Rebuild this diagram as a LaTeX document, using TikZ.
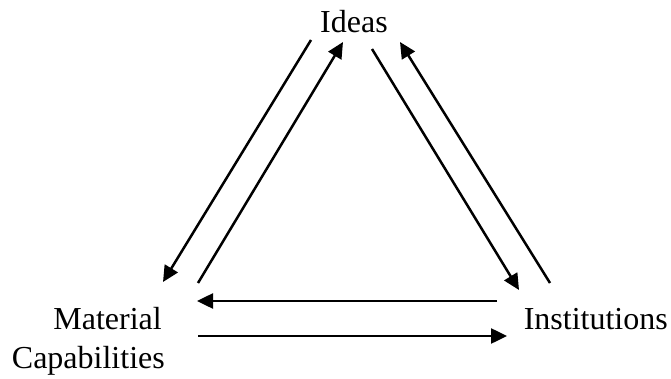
\documentclass[tikz,border=0pt]{standalone}
\usepackage{fontspec}
\setmainfont{Liberation Serif}
\usetikzlibrary{arrows.meta}
\begin{document}
\begin{tikzpicture}[x=1pt,y=-1pt,
  lbl/.style={inner sep=0pt,font=\fontsize{32}{37}\selectfont},
  link/.style={line width=2.5pt,-{Triangle[length=16pt,width=15pt]}}]
\useasboundingbox (0,0) rectangle (671,379);
\node[lbl,anchor=base] (ideas) at (354,33) {Ideas};
\node[lbl,anchor=base east] (mat) at (162,329) {Material};
\node[lbl,anchor=base east] (cap) at (165,368) {Capabilities};
\node[lbl,anchor=base east] (inst) at (668,329) {Institutions};
% arrow end points
\coordinate (a1s) at (311,40);  \coordinate (a1e) at (163,282);
\coordinate (a2s) at (198,283); \coordinate (a2e) at (343,42);
\coordinate (b1s) at (372,49);  \coordinate (b1e) at (519,290);
\coordinate (b2s) at (550,283); \coordinate (b2e) at (400,42);
\coordinate (c1s) at (497,301); \coordinate (c1e) at (197,301);
\coordinate (c2s) at (198,336); \coordinate (c2e) at (507,336);
\draw[link] (a1s) -- (a1e);
\draw[link] (a2s) -- (a2e);
\draw[link] (b1s) -- (b1e);
\draw[link] (b2s) -- (b2e);
\draw[link] (c1s) -- (c1e);
\draw[link] (c2s) -- (c2e);
\end{tikzpicture}
\end{document}
